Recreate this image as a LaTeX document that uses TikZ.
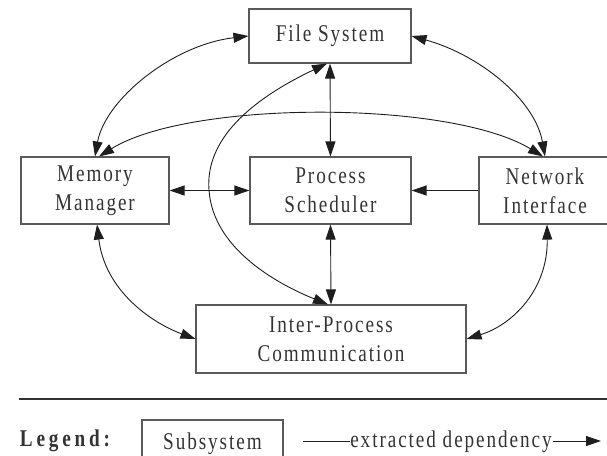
\documentclass[tikz,border=0pt]{standalone}
\usepackage{fontspec}
\setmainfont{Liberation Serif}[FakeStretch=0.8, LetterSpace=8]
\newfontfamily\legendfont{Liberation Serif}[FakeStretch=0.8, LetterSpace=16, BoldFont={Liberation Serif Bold}]
\usetikzlibrary{arrows.meta}
\definecolor{boxline}{HTML}{5A5A5A}
\definecolor{txt}{HTML}{333333}
\definecolor{wire}{HTML}{1E1E1E}
\tikzset{
  >={Triangle[length=15pt, width=10pt]},
  box/.style={draw=boxline, line width=1.1pt, align=center, text=txt,
    inner sep=0pt, font=\fontsize{24}{29}\selectfont},
  dep/.style={draw=wire, line width=0.9pt, <->},
  depone/.style={draw=wire, line width=0.9pt, ->},
}
\begin{document}
\begin{tikzpicture}[x=1pt, y=-1pt]
\useasboundingbox (0,0) rectangle (607,455);
\clip (0,0) rectangle (607,455);

% subsystems
\node[box, minimum width=162pt, minimum height=54pt] (fs) at (330,36) {File System};
\node[box, minimum width=148pt, minimum height=67pt] (mm) at (95,190.5) {Memory\\Manager};
\node[box, minimum width=161pt, minimum height=67pt] (ps) at (330.5,190.5) {Process\\Scheduler};
\node[box, minimum width=132pt, minimum height=67pt] (ni) at (545,190.5) {Network\\Interface};
\node[box, minimum width=270pt, minimum height=68pt] (ipc) at (331,339) {Inter-Process\\Communication};

% dependencies
\draw[dep] (mm.north) .. controls (105,100) and (172,45) .. (fs.west);
\draw[dep] (fs.east) .. controls (480,55) and (535,100) .. (ni.north);
\draw[dep] ([xshift=4pt]mm.north) .. controls (190,100) and (450,100) .. ([xshift=-2pt]ni.north);
\draw[dep] (fs.south) -- (ps.north);
\draw[dep] (mm.east) -- (ps.west);
\draw[depone] (ni.west) -- (ps.east);
\draw[dep] (ps.south) -- (ipc.north);
\draw[dep] ([xshift=2pt]mm.south) .. controls (105,290) and (150,322) .. (ipc.west);
\draw[dep] ([xshift=2pt]ni.south) .. controls (548,290) and (512,325) .. (ipc.east);
\draw[dep] ([xshift=-3pt]fs.south) .. controls (250,100) and (205,140) .. (209,190)
  .. controls (213,250) and (280,285) .. ([xshift=-3pt]ipc.north);

% legend
\draw[draw=txt, line width=2.2pt] (19,399) -- (607,399);
\node[anchor=base, text=txt, font=\legendfont\fontsize{24}{29}\selectfont\bfseries] (leg) at (65,446) {Legend:};
\node[box, minimum width=141pt, minimum height=48pt] (sub) at (212.5,444) {Subsystem};
\coordinate (la) at (303,441);
\coordinate (lb) at (350,441);
\coordinate (lc) at (553,441);
\coordinate (ld) at (601,441);
\node[anchor=base, text=txt, font=\fontsize{24}{29}\selectfont] (deptext) at (451,447) {extracted dependency};
\draw[draw=wire, line width=0.9pt] (la) -- (lb);
\draw[depone] (lc) -- (ld);
\end{tikzpicture}
\end{document}
